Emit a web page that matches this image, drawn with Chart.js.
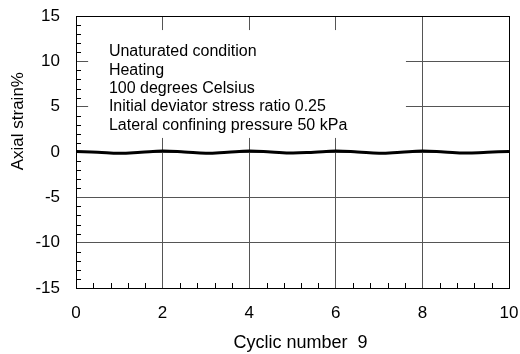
<!DOCTYPE html>
<html>
<head>
<meta charset="utf-8">
<script src="https://cdn.jsdelivr.net/npm/chart.js@4.4.1/dist/chart.umd.min.js"></script>
<style>
html,body{margin:0;padding:0;background:#fff;}
#wrap{width:520px;height:354px;}
</style>
</head>
<body>
<div id="wrap"><canvas id="c" width="520" height="354"></canvas></div>
<script>
// Data
const cycles = [0,0.5,1,1.5,2,2.5,3,3.5,4,4.5,5,5.5,6,6.5,7,7.5,8,8.5,9,9.5,10];
const axialStrain = [0.05,-0.02,-0.14,-0.03,0.1,0.0,-0.14,-0.02,0.1,0.0,-0.12,-0.02,0.1,0.0,-0.14,-0.02,0.1,0.0,-0.12,-0.02,0.05];
const xTicks = [0,2,4,6,8,10];
const yTicks = [-15,-10,-5,0,5,10,15];
const xMinorTicks = [0.4,0.8,1.2,1.6,2.4,2.8,3.2,3.6,4.4,4.8,5.2,5.6,6.4,6.8,7.2,7.6,8.4,8.8,9.2,9.6];
const yMinorTicks = [-14,-13,-12,-11,-9,-8,-7,-6,-4,-3,-2,-1,1,2,3,4,6,7,8,9,11,12,13,14];
const noteLines = ["Unaturated condition","Heating","100 degrees Celsius","Initial deviator stress ratio 0.25","Lateral confining pressure 50 kPa"];
const xTitle = "Cyclic number  9";
const yTitle = "Axial strain%";

const FONT = "'Liberation Sans', Arial, sans-serif";

const overlay = {
  id: 'overlay',
  beforeDatasetsDraw(chart) {
    const ctx = chart.ctx, xs = chart.scales.x, ys = chart.scales.y;
    const ca = chart.chartArea;
    ctx.save();
    // white note box covering grid
    const bx0 = xs.getPixelForValue(0.28), bx1 = xs.getPixelForValue(7.62);
    const by0 = ys.getPixelForValue(13.45), by1 = ys.getPixelForValue(1.55);
    ctx.fillStyle = '#fff';
    ctx.fillRect(bx0, by0, bx1 - bx0, by1 - by0);
    ctx.fillStyle = '#000';
    ctx.font = '16px ' + FONT;
    ctx.textBaseline = 'middle';
    ctx.textAlign = 'left';
    noteLines.forEach((t, i) => {
      ctx.fillText(t, xs.getPixelForValue(0.76), by0 + 22 + i * 18.3);
    });
    // minor ticks (inward)
    ctx.strokeStyle = '#000';
    ctx.lineWidth = 1;
    ctx.beginPath();
    xMinorTicks.forEach(v => {
      const px = Math.round(xs.getPixelForValue(v)) + 0.5;
      ctx.moveTo(px, ca.bottom); ctx.lineTo(px, ca.bottom - 5);
    });
    yMinorTicks.forEach(v => {
      const py = Math.round(ys.getPixelForValue(v)) + 0.5;
      ctx.moveTo(ca.left, py); ctx.lineTo(ca.left + 5, py);
    });
    ctx.stroke();
    ctx.restore();
  },
  afterDraw(chart) {
    const ctx = chart.ctx, ca = chart.chartArea;
    ctx.save();
    ctx.fillStyle = '#000';
    ctx.font = '18px ' + FONT;
    ctx.textAlign = 'center';
    ctx.textBaseline = 'middle';
    ctx.fillText(xTitle, (ca.left + ca.right) / 2 + 8, 343);
    ctx.translate(18, chart.scales.y.getPixelForValue(3.4));
    ctx.rotate(-Math.PI / 2);
    ctx.font = '17px ' + FONT;
    ctx.fillText(yTitle, 0, 0);
    ctx.restore();
  }
};

new Chart(document.getElementById('c'), {
  type: 'line',
  data: {
    datasets: [{
      data: cycles.map((x, i) => ({x: x, y: axialStrain[i]})),
      borderColor: '#000',
      borderWidth: 3,
      pointRadius: 0,
      tension: 0.4,
      fill: false
    }]
  },
  options: {
    responsive: false,
    animation: false,
    events: [],
    layout: {padding: {top: 16, right: 11, left: 0, bottom: 0}},
    plugins: {legend: {display: false}, tooltip: {enabled: false}},
    scales: {
      x: {
        type: 'linear', min: 0, max: 10,
        afterFit(s) { s.height = 66; },
        afterBuildTicks(s) { s.ticks = xTicks.map(v => ({value: v})); },
        ticks: {color: '#000', font: {family: FONT, size: 17}, padding: 0, maxRotation: 0},
        grid: {color: '#555', lineWidth: 1, drawTicks: true, tickLength: 15, tickColor: 'rgba(0,0,0,0)'},
        border: {display: true, color: '#000', width: 1}
      },
      y: {
        type: 'linear', min: -15, max: 15,
        afterFit(s) { s.width = 76; },
        afterBuildTicks(s) { s.ticks = yTicks.map(v => ({value: v})); },
        ticks: {color: '#000', font: {family: FONT, size: 17}, padding: 0},
        grid: {color: '#555', lineWidth: 1, drawTicks: true, tickLength: 16, tickColor: 'rgba(0,0,0,0)'},
        border: {display: true, color: '#000', width: 1}
      }
    }
  },
  plugins: [overlay, {
    id: 'frame',
    afterDatasetsDraw(chart) {
      const ctx = chart.ctx, ca = chart.chartArea;
      ctx.save();
      ctx.strokeStyle = '#000'; ctx.lineWidth = 1;
      ctx.strokeRect(Math.round(ca.left) + 0.5, Math.round(ca.top) + 0.5, Math.round(ca.right - ca.left), Math.round(ca.bottom - ca.top));
      ctx.restore();
    }
  }]
});
</script>
</body>
</html>
